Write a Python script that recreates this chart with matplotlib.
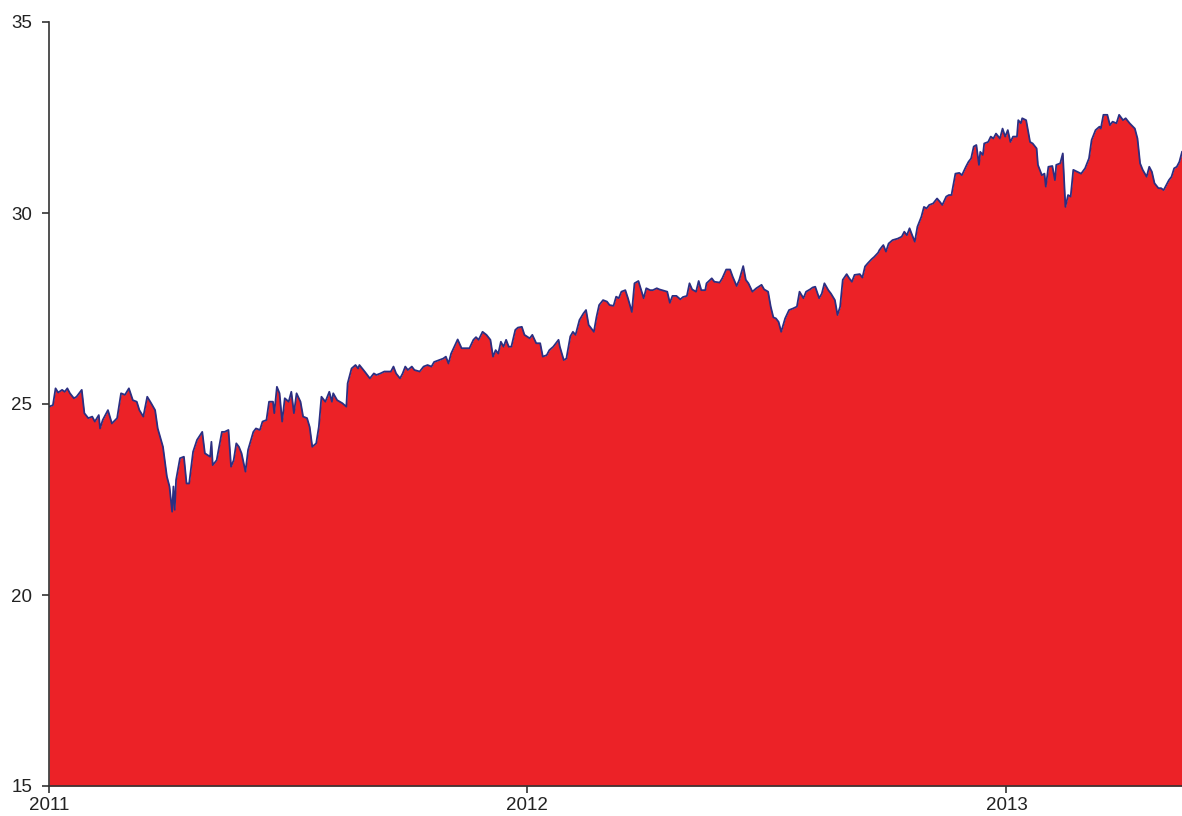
import pandas as pd
import matplotlib
matplotlib.use('Agg')
from matplotlib import pyplot as plt
import matplotlib.dates as mdates

# days counted from 2011-01-01, closing values
days = [0, 3, 5, 7, 10, 12, 14, 16, 19, 21, 25, 27, 30, 33, 35, 38, 39, 41, 45, 48,
        52, 55, 58, 61, 64, 67, 69, 72, 75, 78, 81, 83, 87, 90, 92, 94, 95, 96, 97, 100,
        103, 105, 107, 110, 113, 117, 119, 123, 124, 125, 128, 132, 134, 137, 139, 141, 143, 145, 147, 150,
        152, 156, 158, 161, 163, 166, 168, 171, 172, 174, 176, 178, 180, 183, 185, 187, 189, 192, 194, 197,
        199, 201, 204, 206, 208, 211, 214, 216, 217, 220, 222, 224, 227, 228, 231, 234, 236, 237, 241, 245,
        248, 250, 253, 256, 261, 263, 265, 268, 270, 272, 274, 277, 279, 283, 286, 289, 292, 294, 298, 301,
        303, 305, 307, 310, 312, 315, 319, 321, 324, 326, 328, 331, 334, 337, 339, 341, 343, 345, 347, 349,
        351, 353, 356, 358, 361, 363, 367, 369, 372, 375, 377, 380, 382, 385, 389, 390, 393, 395, 398, 400,
        402, 405, 408, 410, 412, 414, 416, 418, 420, 423, 426, 428, 431, 433, 435, 437, 440, 442, 445, 447,
        450, 454, 456, 459, 461, 464, 466, 468, 472, 474, 476, 479, 482, 484, 487, 489, 491, 494, 496, 498,
        501, 502, 506, 508, 512, 514, 517, 520, 522, 525, 527, 530, 532, 534, 537, 540, 544, 546, 549, 551,
        553, 555, 557, 559, 562, 565, 568, 571, 573, 576, 578, 581, 583, 585, 588, 590, 592, 595, 597, 600,
        602, 604, 606, 609, 611, 613, 615, 619, 621, 623, 625, 628, 630, 633, 634, 636, 637, 639, 641, 644,
        648, 651, 653, 655, 657, 659, 661, 663, 666, 668, 670, 672, 675, 678, 680, 682, 685, 687, 689, 692,
        695, 697, 700, 702, 704, 706, 708, 710, 711, 713, 714, 717, 719, 721, 723, 726, 728, 730, 732, 734,
        736, 739, 740, 742, 743, 746, 749, 751, 754, 755, 758, 760, 761, 763, 766, 768, 769, 772, 774, 776,
        778, 780, 782, 785, 788, 791, 794, 796, 799, 802, 803, 805, 808, 810, 812, 815, 817, 820, 822, 825,
        829, 831, 833, 835, 838, 840, 842, 844, 847, 849, 851, 853, 855, 857, 859, 861, 863, 865]

values = [24.93, 24.97, 25.41, 25.30, 25.37, 25.32, 25.41, 25.28, 25.15, 25.19, 25.37, 24.76, 24.63, 24.67, 24.54, 24.71, 24.36, 24.58, 24.84, 24.49,
          24.63, 25.28, 25.24, 25.41, 25.10, 25.06, 24.84, 24.67, 25.19, 25.02, 24.84, 24.36, 23.88, 23.10, 22.84, 22.18, 22.84, 22.23, 23.01, 23.58,
          23.62, 22.92, 22.92, 23.75, 24.06, 24.27, 23.71, 23.62, 24.01, 23.40, 23.53, 24.27, 24.27, 24.32, 23.36, 23.53, 23.97, 23.88, 23.71, 23.23,
          23.80, 24.27, 24.36, 24.32, 24.54, 24.58, 25.06, 25.06, 24.76, 25.45, 25.28, 24.54, 25.15, 25.06, 25.32, 24.76, 25.28, 25.06, 24.67, 24.63,
          24.40, 23.88, 23.97, 24.40, 25.19, 25.06, 25.32, 25.06, 25.28, 25.10, 25.06, 25.02, 24.93, 25.54, 25.93, 26.02, 25.93, 26.02, 25.85, 25.67,
          25.80, 25.76, 25.80, 25.85, 25.85, 25.98, 25.80, 25.67, 25.80, 25.98, 25.89, 25.98, 25.89, 25.85, 25.98, 26.02, 25.98, 26.10, 26.15, 26.19,
          26.24, 26.06, 26.32, 26.54, 26.69, 26.46, 26.46, 26.46, 26.68, 26.75, 26.68, 26.89, 26.81, 26.68, 26.24, 26.41, 26.32, 26.63, 26.50, 26.68,
          26.50, 26.50, 26.94, 27.00, 27.02, 26.81, 26.72, 26.81, 26.59, 26.59, 26.24, 26.28, 26.41, 26.50, 26.68, 26.50, 26.15, 26.19, 26.77, 26.89,
          26.81, 27.20, 27.37, 27.46, 27.07, 26.98, 26.89, 27.28, 27.59, 27.72, 27.68, 27.59, 27.57, 27.81, 27.77, 27.94, 27.98, 27.77, 27.41, 28.16,
          28.22, 27.77, 28.03, 27.98, 27.98, 28.03, 28.00, 27.98, 27.94, 27.65, 27.83, 27.83, 27.74, 27.80, 27.83, 28.16, 28.00, 27.94, 28.22, 27.98,
          27.98, 28.16, 28.29, 28.20, 28.18, 28.29, 28.52, 28.52, 28.33, 28.09, 28.25, 28.61, 28.25, 28.16, 27.94, 28.03, 28.12, 28.00, 27.94, 27.55,
          27.27, 27.24, 27.15, 26.89, 27.24, 27.46, 27.50, 27.55, 27.94, 27.77, 27.94, 28.00, 28.05, 28.07, 27.77, 27.89, 28.16, 27.98, 27.89, 27.72,
          27.33, 27.55, 28.25, 28.40, 28.29, 28.20, 28.38, 28.40, 28.31, 28.60, 28.68, 28.79, 28.85, 28.96, 29.03, 29.12, 29.16, 28.99, 29.20, 29.29,
          29.33, 29.38, 29.51, 29.42, 29.60, 29.42, 29.25, 29.64, 29.90, 30.16, 30.12, 30.21, 30.25, 30.38, 30.30, 30.21, 30.43, 30.47, 30.47, 31.03,
          31.05, 30.99, 31.21, 31.34, 31.43, 31.74, 31.78, 31.26, 31.60, 31.52, 31.82, 31.86, 32.00, 31.95, 32.08, 31.95, 32.21, 32.00, 32.17, 31.86,
          32.00, 32.00, 32.43, 32.35, 32.48, 32.43, 31.86, 31.82, 31.69, 31.26, 30.99, 31.03, 30.69, 31.21, 31.23, 30.86, 31.26, 31.30, 31.56, 30.16,
          30.47, 30.43, 31.13, 31.08, 31.03, 31.17, 31.43, 31.91, 32.17, 32.26, 32.21, 32.57, 32.57, 32.30, 32.39, 32.35, 32.57, 32.43, 32.48, 32.35,
          32.21, 31.95, 31.30, 31.13, 30.95, 31.21, 31.08, 30.78, 30.65, 30.65, 30.60, 30.73, 30.86, 30.95, 31.17, 31.21, 31.34, 31.60]

yticks = [15, 20, 25, 30, 35]
xtick_years = ['2011', '2012', '2013']

dates = pd.Timestamp('2011-01-01') + pd.to_timedelta(days, unit='D')

plt.rcParams['font.family'] = ['Liberation Sans', 'DejaVu Sans']

fig = plt.figure(figsize=(11.82, 8.16), dpi=100)
ax = fig.add_axes([49 / 1182, 1 - 786 / 816, 1 - 49 / 1182, (786 - 22) / 816])

ax.fill_between(dates, values, 15, color='#ec2227', linewidth=0)
ax.plot(dates, values, color='#2b2f82', linewidth=1.3)

ax.set_xlim(dates[0], dates[-1])
ax.set_ylim(15, 35)
ax.set_yticks(yticks)
ax.set_xticks([pd.Timestamp(y + '-01-01') for y in xtick_years])
ax.xaxis.set_major_formatter(mdates.DateFormatter('%Y'))

for s in ['top', 'right']:
    ax.spines[s].set_visible(False)
for s in ['left', 'bottom']:
    ax.spines[s].set_color('#333333')
    ax.spines[s].set_linewidth(1.2)
ax.spines['bottom'].set_zorder(5)

ax.tick_params(axis='both', direction='out', length=5, width=1.2, color='#333333',
               labelsize=13.5, labelcolor='#222222')
ax.tick_params(axis='y', pad=7)
ax.tick_params(axis='x', pad=3)

fig.savefig('out.png', dpi=100)
